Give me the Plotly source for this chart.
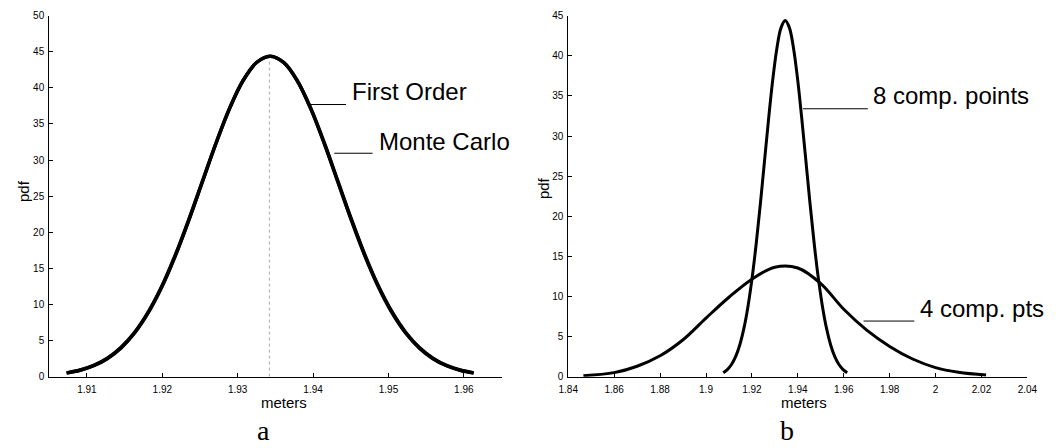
import plotly.graph_objects as go

# ---------------- data ----------------
# panel a : First Order vs Monte Carlo
a_x = [1.9073, 1.9091, 1.9109, 1.9127, 1.9145, 1.9163, 1.9181, 1.9199, 1.9217, 1.9235, 1.9253,
       1.9271, 1.9289, 1.9307, 1.9325, 1.9343, 1.9361, 1.9379, 1.9397, 1.9415, 1.9433,
       1.9451, 1.9469, 1.9487, 1.9505, 1.9523, 1.9541, 1.9559, 1.9577, 1.9595, 1.9613]
a_first_order = [0.49, 0.88, 1.51, 2.49, 3.95, 6.01, 8.79, 12.34, 16.66, 21.61, 26.93,
                 32.24, 37.09, 40.99, 43.52, 44.40, 43.52, 40.99, 37.09, 32.24, 26.93,
                 21.61, 16.66, 12.34, 8.79, 6.01, 3.95, 2.49, 1.51, 0.88, 0.49]
a_monte_carlo = [0.52, 0.92, 1.55, 2.54, 4.02, 6.10, 8.90, 12.45, 16.78, 21.72, 27.02,
                 32.30, 37.12, 41.00, 43.52, 44.40, 43.53, 41.02, 37.15, 32.35, 27.05,
                 21.75, 16.80, 12.48, 8.92, 6.12, 4.03, 2.55, 1.55, 0.92, 0.52]
a_mean_x = [1.9342, 1.9342]
a_mean_y = [0, 43.8]

# panel b : 8 comp. points vs 4 comp. pts
b8_x = [1.9075, 1.9093, 1.9111, 1.9129, 1.9147, 1.9165, 1.9183, 1.9201, 1.9219, 1.9237, 1.9255,
        1.9273, 1.9291, 1.9309, 1.9327, 1.9345, 1.9363, 1.9381, 1.9399, 1.9417, 1.9435,
        1.9453, 1.9471, 1.9489, 1.9507, 1.9525, 1.9543, 1.9561, 1.9579, 1.9597, 1.9615]
b8_y = [0.49, 0.88, 1.51, 2.49, 3.95, 6.01, 8.79, 12.34, 16.66, 21.61, 26.93,
        32.24, 37.09, 40.99, 43.52, 44.40, 43.52, 40.99, 37.09, 32.24, 26.93,
        21.61, 16.66, 12.34, 8.79, 6.01, 3.95, 2.49, 1.51, 0.88, 0.49]
b4_x = [1.8466, 1.86, 1.87, 1.88, 1.89, 1.90, 1.91, 1.92, 1.93,
        1.94, 1.95, 1.96, 1.97, 1.98, 1.99, 2.00, 2.01, 2.022]
b4_y = [0.12, 0.5, 1.3, 2.6, 4.6, 7.3, 9.9, 12.15, 13.65,
        13.55, 11.6, 8.4, 5.8, 3.77, 2.2, 1.13, 0.55, 0.2]

a_xtick_vals = [1.91, 1.92, 1.93, 1.94, 1.95, 1.96]
a_xtick_text = ["1.91", "1.92", "1.93", "1.94", "1.95", "1.96"]
a_ytick_vals = [0, 5, 10, 15, 20, 25, 30, 35, 40, 45, 50]
b_xtick_vals = [1.84, 1.86, 1.88, 1.90, 1.92, 1.94, 1.96, 1.98, 2.00, 2.02, 2.04]
b_xtick_text = ["1.84", "1.86", "1.88", "1.9", "1.92", "1.94", "1.96", "1.98", "2", "2.02", "2.04"]
b_ytick_vals = [0, 5, 10, 15, 20, 25, 30, 35, 40, 45]

# ---------------- figure ----------------
W, H = 1059, 448
SANS = "Liberation Sans, Arial, sans-serif"
SERIF = "Liberation Serif, Times New Roman, serif"

fig = go.Figure()

fig.add_trace(go.Scatter(x=a_mean_x, y=a_mean_y, mode="lines",
                         line=dict(color="#aaaaaa", width=1, dash="dot"),
                         xaxis="x", yaxis="y", showlegend=False))
fig.add_trace(go.Scatter(x=a_x, y=a_first_order, mode="lines", name="First Order",
                         line=dict(color="black", width=3.5, shape="spline"),
                         xaxis="x", yaxis="y", showlegend=False))
fig.add_trace(go.Scatter(x=a_x, y=a_monte_carlo, mode="lines", name="Monte Carlo",
                         line=dict(color="black", width=3.5, shape="spline"),
                         xaxis="x", yaxis="y", showlegend=False))
fig.add_trace(go.Scatter(x=b8_x, y=b8_y, mode="lines", name="8 comp. points",
                         line=dict(color="black", width=3, shape="spline"),
                         xaxis="x2", yaxis="y2", showlegend=False))
fig.add_trace(go.Scatter(x=b4_x, y=b4_y, mode="lines", name="4 comp. pts",
                         line=dict(color="black", width=3, shape="spline"),
                         xaxis="x2", yaxis="y2", showlegend=False))

ydom = [67 / H, 437 / H]
common = dict(showline=True, linecolor="black", linewidth=1, ticks="inside",
              ticklen=4, tickcolor="black", tickwidth=1, showgrid=False,
              zeroline=False, mirror=False,
              tickfont=dict(family=SANS, size=10, color="black"))

fig.update_layout(
    width=W, height=H, margin=dict(l=0, r=0, t=0, b=0),
    paper_bgcolor="white", plot_bgcolor="white",
    xaxis=dict(domain=[40 / W, 501 / W], range=[1.905, 1.965], ticklabelstandoff=3,
               tickvals=a_xtick_vals, ticktext=a_xtick_text, anchor="y", **common),
    yaxis=dict(domain=ydom, range=[0, 50], tickvals=a_ytick_vals, anchor="x",
               ticklabelstandoff=2, **common),
    xaxis2=dict(domain=[569 / W, 1037 / W], range=[1.84, 2.04], ticklabelstandoff=3,
                tickvals=b_xtick_vals, ticktext=b_xtick_text, anchor="y2", **common),
    yaxis2=dict(domain=ydom, range=[0, 45], tickvals=b_ytick_vals, anchor="x2",
                ticklabelstandoff=2, **common),
)

# callout lines
line_style = dict(color="black", width=1)
fig.add_shape(type="line", xref="x", yref="y", x0=1.93955, x1=1.94437, y0=37.7, y1=37.7, line=line_style)
fig.add_shape(type="line", xref="x", yref="y", x0=1.94281, x1=1.94789, y0=30.95, y1=30.95, line=line_style)
fig.add_shape(type="line", xref="x2", yref="y2", x0=1.94226, x1=1.97047, y0=33.4, y1=33.4, line=line_style)
fig.add_shape(type="line", xref="x2", yref="y2", x0=1.96863, x1=1.99073, y0=6.93, y1=6.93, line=line_style)

lab_font = dict(family=SANS, size=24, color="black")
fig.add_annotation(text="First Order", xref="x", yref="y", x=1.9449, y=39.5,
                   xanchor="left", yanchor="middle", showarrow=False, font=lab_font)
fig.add_annotation(text="Monte Carlo", xref="x", yref="y", x=1.94842, y=32.6,
                   xanchor="left", yanchor="middle", showarrow=False, font=lab_font)
fig.add_annotation(text="8 comp. points", xref="x2", yref="y2", x=1.97206, y=35.0,
                   xanchor="left", yanchor="middle", showarrow=False, font=lab_font)
fig.add_annotation(text="4 comp. pts", xref="x2", yref="y2", x=1.99215, y=8.48,
                   xanchor="left", yanchor="middle", showarrow=False, font=lab_font)

# axis titles
ax_font = dict(family=SANS, size=15, color="black")
fig.add_annotation(text="meters", xref="paper", yref="paper", x=279 / W, y=1 - 407 / H,
                   xanchor="center", yanchor="middle", showarrow=False, font=ax_font)
fig.add_annotation(text="meters", xref="paper", yref="paper", x=809 / W, y=1 - 407 / H,
                   xanchor="center", yanchor="middle", showarrow=False, font=ax_font)
fig.add_annotation(text="pdf", xref="paper", yref="paper", x=14 / W, y=1 - 191 / H,
                   xanchor="center", yanchor="middle", showarrow=False, textangle=-90, font=ax_font)
fig.add_annotation(text="pdf", xref="paper", yref="paper", x=544 / W, y=1 - 188 / H,
                   xanchor="center", yanchor="middle", showarrow=False, textangle=-90, font=ax_font)

# panel captions
cap_font = dict(family=SERIF, size=28, color="black")
fig.add_annotation(text="a", xref="paper", yref="paper", x=258 / W, y=1 - 436 / H,
                   xanchor="center", yanchor="middle", showarrow=False, font=cap_font)
fig.add_annotation(text="b", xref="paper", yref="paper", x=792 / W, y=1 - 436 / H,
                   xanchor="center", yanchor="middle", showarrow=False, font=cap_font)

fig.write_html("out.html")
